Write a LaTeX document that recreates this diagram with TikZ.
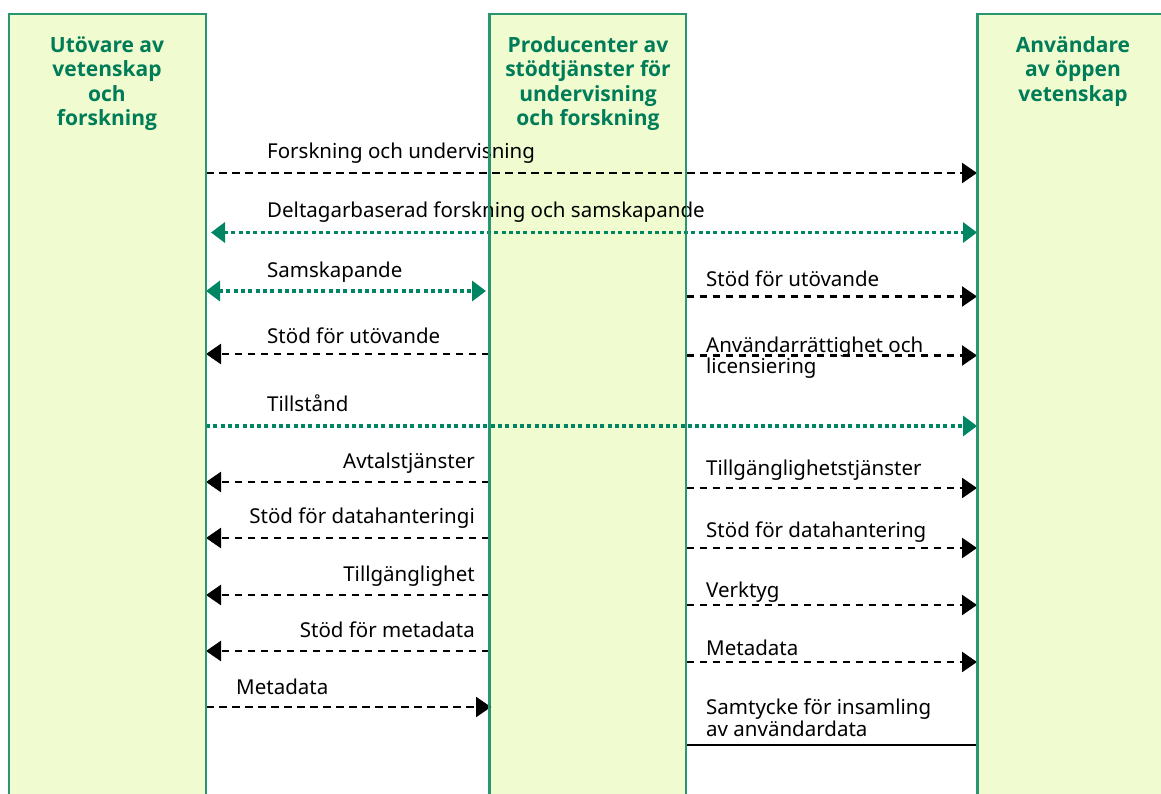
\documentclass[tikz,border=0pt]{standalone}
\usepackage{fontspec}
\setmainfont{Noto Sans}
\newfontfamily\titlefont{Open Sans}
\usetikzlibrary{arrows.meta}
\definecolor{lanefill}{RGB}{240,252,208}
\definecolor{laneborder}{RGB}{40,150,110}
\definecolor{titlegreen}{RGB}{0,125,88}
\definecolor{arrgreen}{RGB}{0,133,98}
\begin{document}
\begin{tikzpicture}[x=1pt,y=-1pt,
  lane/.style={rectangle, inner sep=0pt, anchor=north west, minimum height=800pt, fill=lanefill, draw=laneborder, line width=1.5pt},
  laneedge/.style={draw=laneborder, line width=1.5pt},
  ttl/.style={anchor=base, align=center, inner sep=0pt, text=titlegreen, font=\titlefont\bfseries\fontsize{21}{24.3}\selectfont},
  lbl/.style={inner sep=0pt, align=left, font=\fontsize{20.5}{20}\selectfont},
  lblr/.style={inner sep=0pt, align=right, anchor=base east, font=\fontsize{20.5}{20}\selectfont},
  blk/.style={line width=2.5pt, dash pattern=on 7.5pt off 5.5pt, -{Triangle[length=15pt,width=20pt]}},
  grn/.style={draw=arrgreen, line width=3.5pt, dash pattern=on 4pt off 3.3pt, -{Triangle[length=14pt,width=20pt]}},
  grn2/.style={grn, {Triangle[length=14pt,width=20pt]}-{Triangle[length=14pt,width=20pt]}},
  solidline/.style={line width=2.5pt}
]
\clip (0,0) rectangle (1161,794);
% lanes
\node[lane, minimum width=196pt] (laneU) at (8.5,14) {};
\node[lane, minimum width=196pt] (laneP) at (489,14) {};
\node[lane, minimum width=210pt] (laneA) at (977,14) {};
% titles (anchor base = baseline of last line)
\node[ttl] (tU) at (107,125.4) {Utövare av\\vetenskap\\och\\forskning};
\node[ttl] (tP) at (588,125.4) {Producenter av\\stödtjänster för\\undervisning\\och forskning};
\node[ttl] (tA) at (1073,101.1) {Användare\\av öppen\\vetenskap};

% Forskning och undervisning
\node[lbl, anchor=base west] (l1) at (267,158.5) {Forskning och undervisning};
\draw[blk] (laneU.east |- 0,173) -- (laneA.west |- 0,173);
% Deltagarbaserad
\node[lbl, anchor=base west] (l2) at (267,218) {Deltagarbaserad forskning och samskapande};
\draw[grn2] ([xshift=5pt]laneU.east |- 0,232.5) -- (laneA.west |- 0,232.5);
% Samskapande
\node[lbl, anchor=base west] (l3) at (267,277.5) {Samskapande};
\draw[grn2] (laneU.east |- 0,291) -- ([xshift=-3pt]laneP.west |- 0,291);
% Stöd för utövande right
\node[lbl, anchor=base west] (r1) at (706,286.5) {Stöd för utövande};
\draw[blk] (laneP.east |- 0,296.5) -- (laneA.west |- 0,296.5);
% Stöd för utövande left
\node[lbl, anchor=base west] (l4) at (267,343.5) {Stöd för utövande};
\draw[blk] (laneP.west |- 0,354) -- (laneU.east |- 0,354);
% Användarrättighet
\node[lbl, anchor=base west] (r2) at (706,373.5) {Användarrättighet och\\licensiering};
\draw[blk] (laneP.east |- 0,355.5) -- (laneA.west |- 0,355.5);
% Tillstånd
\node[lbl, anchor=base west] (l5) at (267,411) {Tillstånd};
\draw[grn] (laneU.east |- 0,426) -- (laneA.west |- 0,426);
% Avtalstjänster
\node[lblr] (l6) at (475,468) {Avtalstjänster};
\draw[blk] (laneP.west |- 0,482) -- (laneU.east |- 0,482);
% Tillgänglighetstjänster
\node[lbl, anchor=base west] (r3) at (706,475) {Tillgänglighetstjänster};
\draw[blk] (laneP.east |- 0,488) -- (laneA.west |- 0,488);
% Stöd för datahanteringi
\node[lblr] (l7) at (475,523) {Stöd för datahanteringi};
\draw[blk] (laneP.west |- 0,538) -- (laneU.east |- 0,538);
% Stöd för datahantering
\node[lbl, anchor=base west] (r4) at (706,537) {Stöd för datahantering};
\draw[blk] (laneP.east |- 0,548) -- (laneA.west |- 0,548);
% Tillgänglighet
\node[lblr] (l8) at (475,581) {Tillgänglighet};
\draw[blk] (laneP.west |- 0,595) -- (laneU.east |- 0,595);
% Verktyg
\node[lbl, anchor=base west] (r5) at (706,597) {Verktyg};
\draw[blk] (laneP.east |- 0,605) -- (laneA.west |- 0,605);
% Stöd för metadata
\node[lblr] (l9) at (475,637) {Stöd för metadata};
\draw[blk] (laneP.west |- 0,651) -- (laneU.east |- 0,651);
% Metadata right
\node[lbl, anchor=base west] (r6) at (706,655) {Metadata};
\draw[blk] (laneP.east |- 0,662) -- (laneA.west |- 0,662);
% Metadata left
\node[lbl, anchor=base west] (l10) at (236,694) {Metadata};
\draw[blk] (laneU.east |- 0,707) -- ([xshift=2pt]laneP.west |- 0,707);
% Samtycke
\node[lbl, anchor=base west] (r7) at (706,736) {Samtycke för insamling\\av användardata};
\draw[solidline] (laneP.east |- 0,745) -- (laneA.west |- 0,745);

% lane borders on top
\draw[laneedge] (laneU.south west) rectangle (laneU.north east);
\draw[laneedge] (laneP.south west) rectangle (laneP.north east);
\draw[laneedge] (laneA.south west) rectangle (laneA.north east);
\end{tikzpicture}
\end{document}
